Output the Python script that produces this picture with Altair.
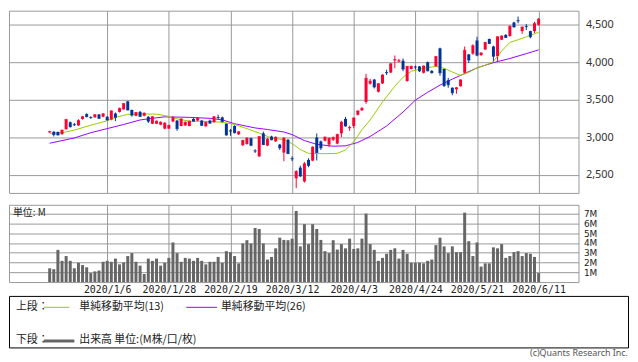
import json
import altair as alt
import pandas as pd

# trading-day number relative to 2020/1/6
day = list(range(-14, 106))

open_ = [3065,3073,3070,3040,3107,3200,3172,3158,3244,3308,3268,3265,3303,3273,
         3273,3235,3316,3338,3372,3479,3363,3286,3338,3286,3273,3180,3180,3167,3115,3115,
         3210,3222,3150,3158,3150,3244,3222,3222,3145,3222,3200,3268,3265,3180,3088,3150,
         3038,2893,2910,2987,2820,2744,3051,2889,3009,2944,2902,2795,2966,2718,2453,2594,
         2410,2697,2688,2996,2944,2953,2902,2966,2915,3051,3244,3120,3150,3299,3359,3470,
         3714,3769,3607,3718,3868,3863,4025,4010,4020,3750,3910,3940,3945,3860,4000,3885,
         3945,4185,3910,3760,3660,3640,3680,3860,4105,4115,4290,4095,4170,4310,4210,4080,
         4300,4365,4350,4530,4558,4415,4480,4415,4415,4500]
high = [3085,3080,3075,3100,3245,3210,3190,3240,3285,3320,3280,3305,3310,3318,
        3280,3360,3330,3395,3455,3485,3370,3335,3350,3330,3280,3280,3222,3210,3200,3165,
        3280,3230,3250,3210,3220,3255,3262,3230,3210,3235,3280,3300,3275,3185,3110,3160,
        3080,2965,3000,2995,2840,3010,3075,2990,3020,3010,2910,3000,2975,2745,2560,2620,
        2670,2720,2880,3050,2955,3010,2995,3010,3045,3220,3270,3155,3265,3360,3400,3845,
        3780,3775,3720,3840,3900,3990,4090,4045,4050,3950,3955,3955,3950,3955,4010,3895,
        4085,4195,3920,3790,3665,3670,3770,4210,4110,4240,4340,4130,4270,4315,4220,4345,
        4360,4375,4490,4540,4610,4475,4510,4420,4540,4590]
low = [3060,3010,3025,3035,3100,3130,3150,3150,3235,3265,3245,3260,3250,3268,
       3220,3225,3215,3330,3365,3360,3275,3280,3270,3280,3190,3175,3175,3160,3105,3110,
       3200,3085,3145,3150,3145,3205,3215,3150,3140,3180,3195,3240,3190,3020,3020,3050,
       3030,2885,2900,2880,2790,2740,2895,2880,2960,2940,2830,2680,2775,2680,2320,2470,
       2395,2600,2680,2690,2830,2945,2870,2950,2905,3000,3140,3085,3120,3290,3350,3445,
       3700,3650,3595,3710,3830,3855,3920,4000,3880,3740,3905,3900,3870,3850,3880,3850,
       3935,3820,3670,3660,3560,3580,3675,3840,3990,4100,4080,4085,4165,4245,4005,4010,
       4295,4325,4340,4465,4520,4380,4430,4320,4390,4490]
close = [3075,3035,3030,3094,3235,3140,3165,3222,3273,3275,3262,3300,3252,3312,
         3230,3350,3265,3385,3449,3363,3295,3329,3278,3320,3214,3273,3214,3200,3188,3158,
         3265,3115,3244,3200,3214,3214,3256,3158,3200,3188,3273,3262,3210,3030,3082,3060,
         3073,2957,2987,2893,2815,3009,2902,2974,2966,3000,2859,2987,2782,2712,2543,2483,
         2645,2624,2868,2795,2859,3000,2987,2996,3038,3200,3150,3130,3256,3350,3385,3786,
         3748,3671,3714,3830,3860,3979,4035,4020,3910,3945,3945,3935,3885,3950,3885,3860,
         4075,3860,3690,3700,3594,3660,3765,4160,4030,4220,4095,4125,4265,4250,4080,4340,
         4350,4330,4480,4470,4552,4470,4475,4340,4515,4575]
volume = [1.41,1.32,3.29,2.17,2.66,2.17,1.41,1.97,1.74,1.51,0.92,1.09,1.18,2.07,
          2.17,2.07,2.40,1.81,2.01,2.66,2.96,2.07,1.68,0.82,2.40,2.17,2.40,1.68,1.97,2.47,
          4.05,2.96,2.07,2.47,2.40,2.17,2.47,2.17,1.81,2.07,2.07,2.57,1.97,3.16,3.06,2.66,
          1.91,3.95,4.28,3.95,5.53,5.43,3.95,2.30,2.57,3.45,4.54,4.31,4.28,4.44,7.27,3.65,
          5.92,3.88,5.92,5.43,4.31,3.16,2.96,4.28,3.32,3.88,3.45,4.44,3.39,3.45,4.44,7.00,
          3.88,3.29,2.17,2.47,2.89,3.29,3.45,2.40,3.29,2.89,1.97,1.97,1.97,1.91,2.17,2.30,
          3.78,4.54,3.65,2.96,3.65,3.06,3.06,7.10,4.18,2.66,4.05,1.58,1.91,1.91,3.55,3.45,
          3.88,2.47,2.66,3.06,3.16,2.66,2.96,2.89,2.57,0.92]

ma13_day = [-14,-11,-8,-4,0,2,5,8,12,15,17,20,25,28,31,34,37,40,43,45,47,49,53,56,58,
            60,62,64,67,70,72,74,77,80,82,84,86,88,90,92,94,96,98,100,102,105]
ma13_val = [3050,3060,3095,3160,3220,3265,3305,3310,3308,3278,3245,3214,3210,3200,3170,
            3115,3055,2990,2965,2915,2835,2785,2780,2785,2830,2940,3100,3230,3470,3680,
            3800,3880,3920,3945,3920,3870,3825,3865,3925,3960,4010,4150,4265,4300,4340,4400]
ma26_day = [-14,-8,-4,0,4,8,11,14,20,25,28,31,36,39,43,45,48,51,55,58,61,64,68,72,75,
            78,81,84,87,90,94,98,102,105]
ma26_val = [2920,2990,3060,3115,3170,3230,3252,3272,3265,3252,3231,3180,3124,3103,3070,
            3035,2955,2905,2880,2885,2930,3010,3150,3335,3495,3600,3695,3775,3850,3925,
            3995,4050,4115,4165]

tick_days = [0, 15, 30, 45, 60, 75, 90, 105]
tick_labels = ["2020/1/6", "2020/1/28", "2020/2/19", "2020/3/12",
               "2020/4/3", "2020/4/24", "2020/5/21", "2020/6/11"]
price_ticks = [2500, 3000, 3500, 4000, 4500]
vol_ticks = [1, 2, 3, 4, 5, 6, 7]

RED = "#ff0033"
BLUE = "#003399"
GREEN = "#99cc00"
PURPLE = "#9900ff"
GRID = "#999999"
VOL = "#666666"
JP = "Noto Sans CJK JP"

df = pd.DataFrame({"day": day, "open": open_, "high": high, "low": low,
                   "close": close, "volume": volume})
df["dir"] = ["up" if c >= o else "down" for o, c in zip(open_, close)]
ma13 = pd.DataFrame({"day": ma13_day, "val": ma13_val})
ma26 = pd.DataFrame({"day": ma26_day, "val": ma26_val})

W, H_TOP, H_BOT = 575, 184, 78
xscale = alt.Scale(domain=[-22.7, 113.5], nice=False, zero=False)
yscale = alt.Scale(domain=[2257, 4688], nice=False, zero=False)
vscale = alt.Scale(domain=[0, 7.9], nice=False, zero=False)

color = alt.Color("dir:N", scale=alt.Scale(domain=["up", "down"], range=[RED, BLUE]),
                  legend=None)

x_top = alt.X("day:Q", scale=xscale, title=None,
              axis=alt.Axis(values=tick_days, labels=False, ticks=False, domain=False,
                            grid=True, gridColor=GRID, gridOpacity=1, minExtent=0,
                            maxExtent=0))
y_top = alt.Y("low:Q", scale=yscale, title=None,
              axis=alt.Axis(orient="right", values=price_ticks,
                            labelExpr="format(datum.value, ',')", grid=True,
                            gridColor=GRID, gridOpacity=1, ticks=False, domain=False,
                            labelPadding=7, labelFont="Noto Sans", labelFontSize=11,
                            labelColor="#333333"))

base = alt.Chart(df)
wick = base.mark_rule(strokeWidth=1).encode(x=x_top, y=y_top, y2="high:Q", color=color)
body = base.mark_bar(size=3, orient="vertical").encode(
    x="day:Q", y="open:Q", y2="close:Q", color=color)
ctick = base.mark_tick(orient="horizontal", size=3, thickness=1).encode(
    x="day:Q", y="close:Q", color=color)
l13 = alt.Chart(ma13).mark_line(color=GREEN, strokeWidth=1).encode(x="day:Q", y="val:Q")
l26 = alt.Chart(ma26).mark_line(color=PURPLE, strokeWidth=1).encode(x="day:Q", y="val:Q")

top = alt.layer(wick, l26, l13, body, ctick).properties(width=W, height=H_TOP)

label_expr = f"{json.dumps(tick_labels)}[indexof({json.dumps(tick_days)}, datum.value)]"
x_bot = alt.X("day:Q", scale=xscale, title=None,
              axis=alt.Axis(values=tick_days, labelExpr=label_expr, ticks=False,
                            domain=False, grid=True, gridColor=GRID, gridOpacity=1,
                            labelFont="DejaVu Sans Mono", labelFontSize=10,
                            labelColor="#222222", labelPadding=3, labelFlush=False,
                            labelOverlap=False))
y_bot = alt.Y("volume:Q", scale=vscale, title=None,
              axis=alt.Axis(orient="right", values=vol_ticks,
                            labelExpr="datum.value + 'M'", grid=True, gridColor=GRID,
                            gridOpacity=1, ticks=False, domain=False, labelPadding=5,
                            labelFont="DejaVu Sans", labelFontSize=9,
                            labelColor="#222222"))
vol = alt.Chart(df).mark_bar(size=3, color=VOL).encode(x=x_bot, y=y_bot)

one = pd.DataFrame({"k": [0]})


def txt(s, x, y, size=11, font=JP, align="left", col="#222222"):
    return alt.Chart(one).mark_text(text=s, align=align, baseline="middle", font=font,
                                    fontSize=size, color=col).encode(
        x=alt.value(x), y=alt.value(y))


def seg(x1, x2, y, col, w):
    return alt.Chart(one).mark_rule(color=col, strokeWidth=w).encode(
        x=alt.value(x1), x2=alt.value(x2), y=alt.value(y))


unit = txt("単位: M", 4, 8, size=10)
box = alt.Chart(one).mark_rect(fillOpacity=0, stroke="#000000", strokeWidth=1).encode(
    x=alt.value(0.5), x2=alt.value(625.5), y=alt.value(92.5), y2=alt.value(144.5))
legend = [
    txt("上段：", 7, 103),
    seg(35, 61, 103.5, GREEN, 1),
    txt("単純移動平均(13)", 71, 103),
    seg(179, 210, 103.5, PURPLE, 1),
    txt("単純移動平均(26)", 214, 103),
    txt("下段：", 7, 137),
    seg(35, 66, 137.5, VOL, 3),
    txt("出来高 単位:(M株/口/枚)", 71, 137),
    txt("(c)Quants Research Inc.", 625, 150, size=9, font="Noto Sans", align="right",
        col="#555555"),
]

bottom = alt.layer(vol, unit, box, *legend).properties(width=W, height=H_BOT)

chart = alt.vconcat(top, bottom, spacing=10).properties(
    padding=0, background="white"
).configure_view(stroke=GRID, strokeWidth=1)

chart.save("out.html", embed_options={"renderer": "svg", "actions": False})
